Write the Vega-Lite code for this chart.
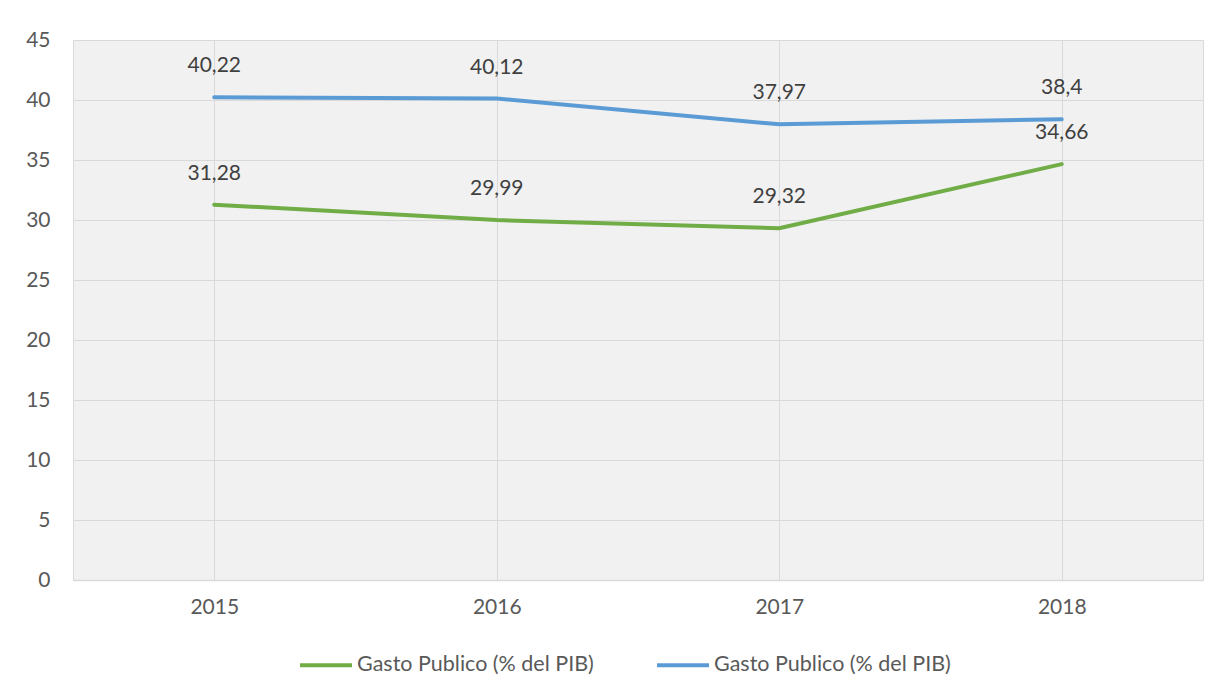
{
  "$schema": "https://vega.github.io/schema/vega-lite/v6.json",
  "width": 1130,
  "height": 540,
  "autosize": {"type": "none"},
  "padding": {"left": 73, "top": 40, "right": 16, "bottom": 115},
  "background": "white",
  "config": {
    "locale": {"number": {"decimal": ",", "thousands": ".", "grouping": [3], "currency": ["", " €"]}},
    "view": {"stroke": "#d9d9d9", "fill": "#f1f1f1", "strokeWidth": 1},
    "font": "Lato"
  },
  "data": {
    "values": [
      {"anio": "2015", "serie": "Gasto Publico (% del PIB) 1", "valor": 31.28},
      {"anio": "2016", "serie": "Gasto Publico (% del PIB) 1", "valor": 29.99},
      {"anio": "2017", "serie": "Gasto Publico (% del PIB) 1", "valor": 29.32},
      {"anio": "2018", "serie": "Gasto Publico (% del PIB) 1", "valor": 34.66},
      {"anio": "2015", "serie": "Gasto Publico (% del PIB) 2", "valor": 40.22},
      {"anio": "2016", "serie": "Gasto Publico (% del PIB) 2", "valor": 40.12},
      {"anio": "2017", "serie": "Gasto Publico (% del PIB) 2", "valor": 37.97},
      {"anio": "2018", "serie": "Gasto Publico (% del PIB) 2", "valor": 38.4}
    ]
  },
  "encoding": {
    "x": {
      "field": "anio", "type": "ordinal",
      "scale": {"type": "point", "padding": 0.5},
      "axis": {"title": null, "labelAngle": 0, "labelFontSize": 21, "labelColor": "#595959", "labelPadding": 16, "ticks": false, "tickSize": 0, "domainColor": "#d9d9d9", "domainWidth": 1.5, "grid": true, "gridColor": "#d9d9d9", "gridWidth": 1}
    },
    "y": {
      "field": "valor", "type": "quantitative",
      "scale": {"domain": [0, 45], "nice": false},
      "axis": {"title": null, "values": [0, 5, 10, 15, 20, 25, 30, 35, 40, 45], "labelFontSize": 21, "labelColor": "#595959", "labelPadding": 23, "ticks": false, "tickSize": 0, "domain": false, "grid": true, "gridColor": "#d9d9d9", "gridWidth": 1}
    }
  },
  "layer": [
    {
      "mark": {"type": "line", "strokeWidth": 4, "strokeCap": "round"},
      "encoding": {
        "color": {
          "field": "serie", "type": "nominal",
          "scale": {"domain": ["Gasto Publico (% del PIB) 1", "Gasto Publico (% del PIB) 2"], "range": ["#70AD47", "#5B9BD5"]},
          "legend": {
            "title": null, "orient": "none", "direction": "horizontal", "legendX": 225, "legendY": 597,
            "symbolType": "stroke", "symbolSize": 2704, "symbolStrokeWidth": 4,
            "labelFontSize": 21.5, "labelColor": "#595959", "labelOffset": 3, "columnPadding": 55, "labelLimit": 0,
            "labelExpr": "'Gasto Publico (% del PIB)'"
          }
        }
      }
    },
    {
      "mark": {"type": "text", "fontSize": 21, "color": "#404040", "dy": -31},
      "encoding": {
        "text": {"field": "valor", "type": "quantitative", "format": "~r"}
      }
    }
  ]
}
